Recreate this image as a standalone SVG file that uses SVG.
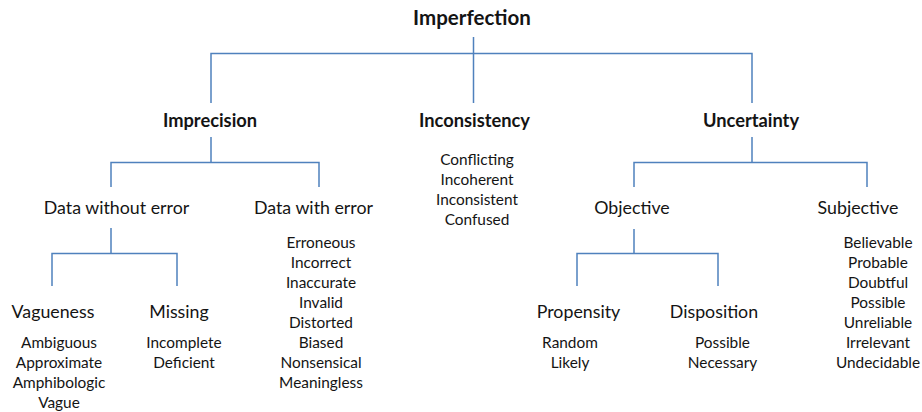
<svg xmlns="http://www.w3.org/2000/svg" width="922" height="412" viewBox="0 0 922 412">
  <style>
    text { font-family: Lato, "Open Sans", "Liberation Sans", sans-serif; fill: #141414; text-anchor: middle; }
    .h1 { font-size: 20.5px; font-weight: bold; }
    .h2 { font-size: 18.3px; font-weight: bold; }
    .h3 { font-size: 17.8px; }
    .it { font-size: 15.4px; }
    .link { fill: none; stroke: #4f81bd; stroke-width: 1.5; }
  </style>
  <rect width="922" height="412" fill="#ffffff"/>

  <g id="connectors">
    <!-- Imperfection to its three branches -->
    <path class="link" d="M473.5 37 V53.5 M211 103 V53.5 H752 V103 M473.5 53.5 V103"/>
    <!-- Imprecision split -->
    <path class="link" d="M211 137 V162.5 M111 187 V162.5 H319 V187"/>
    <!-- Data without error split -->
    <path class="link" d="M111 228 V253.5 M52 286 V253.5 H177 V286"/>
    <!-- Uncertainty split -->
    <path class="link" d="M752 137 V162.5 M634 187 V162.5 H867 V187"/>
    <!-- Objective split -->
    <path class="link" d="M634 229 V253.5 M577 286 V253.5 H718 V286"/>
  </g>

  <g id="imperfection"><text class="h1" x="472" y="25">Imperfection</text></g>

  <g id="imprecision"><text class="h2" x="210" y="127">Imprecision</text></g>
  <g id="inconsistency">
    <text class="h2" x="474.5" y="127">Inconsistency</text>
    <text class="it" x="477" y="165">Conflicting</text>
    <text class="it" x="477" y="185">Incoherent</text>
    <text class="it" x="477" y="205">Inconsistent</text>
    <text class="it" x="477" y="225">Confused</text>
  </g>
  <g id="uncertainty"><text class="h2" x="751" y="127">Uncertainty</text></g>

  <g id="data-without-error"><text class="h3" x="116.5" y="214">Data without error</text></g>
  <g id="data-with-error">
    <text class="h3" x="313.5" y="214">Data with error</text>
    <text class="it" x="321" y="248">Erroneous</text>
    <text class="it" x="321" y="268">Incorrect</text>
    <text class="it" x="321" y="288">Inaccurate</text>
    <text class="it" x="321" y="308">Invalid</text>
    <text class="it" x="321" y="328">Distorted</text>
    <text class="it" x="321" y="348">Biased</text>
    <text class="it" x="321" y="368">Nonsensical</text>
    <text class="it" x="321" y="388">Meaningless</text>
  </g>

  <g id="vagueness">
    <text class="h3" x="53" y="318">Vagueness</text>
    <text class="it" x="59" y="348">Ambiguous</text>
    <text class="it" x="59" y="368">Approximate</text>
    <text class="it" x="59" y="388">Amphibologic</text>
    <text class="it" x="59" y="408">Vague</text>
  </g>
  <g id="missing">
    <text class="h3" x="179" y="318">Missing</text>
    <text class="it" x="184" y="348">Incomplete</text>
    <text class="it" x="184" y="368">Deficient</text>
  </g>

  <g id="objective"><text class="h3" x="632" y="214">Objective</text></g>
  <g id="subjective">
    <text class="h3" x="858" y="214">Subjective</text>
    <text class="it" x="878" y="248">Believable</text>
    <text class="it" x="878" y="268">Probable</text>
    <text class="it" x="878" y="288">Doubtful</text>
    <text class="it" x="878" y="308">Possible</text>
    <text class="it" x="878" y="328">Unreliable</text>
    <text class="it" x="878" y="348">Irrelevant</text>
    <text class="it" x="878" y="368">Undecidable</text>
  </g>

  <g id="propensity">
    <text class="h3" x="578.5" y="318">Propensity</text>
    <text class="it" x="570" y="348">Random</text>
    <text class="it" x="570" y="368">Likely</text>
  </g>
  <g id="disposition">
    <text class="h3" x="714" y="318">Disposition</text>
    <text class="it" x="722.5" y="348">Possible</text>
    <text class="it" x="722.5" y="368">Necessary</text>
  </g>
</svg>
